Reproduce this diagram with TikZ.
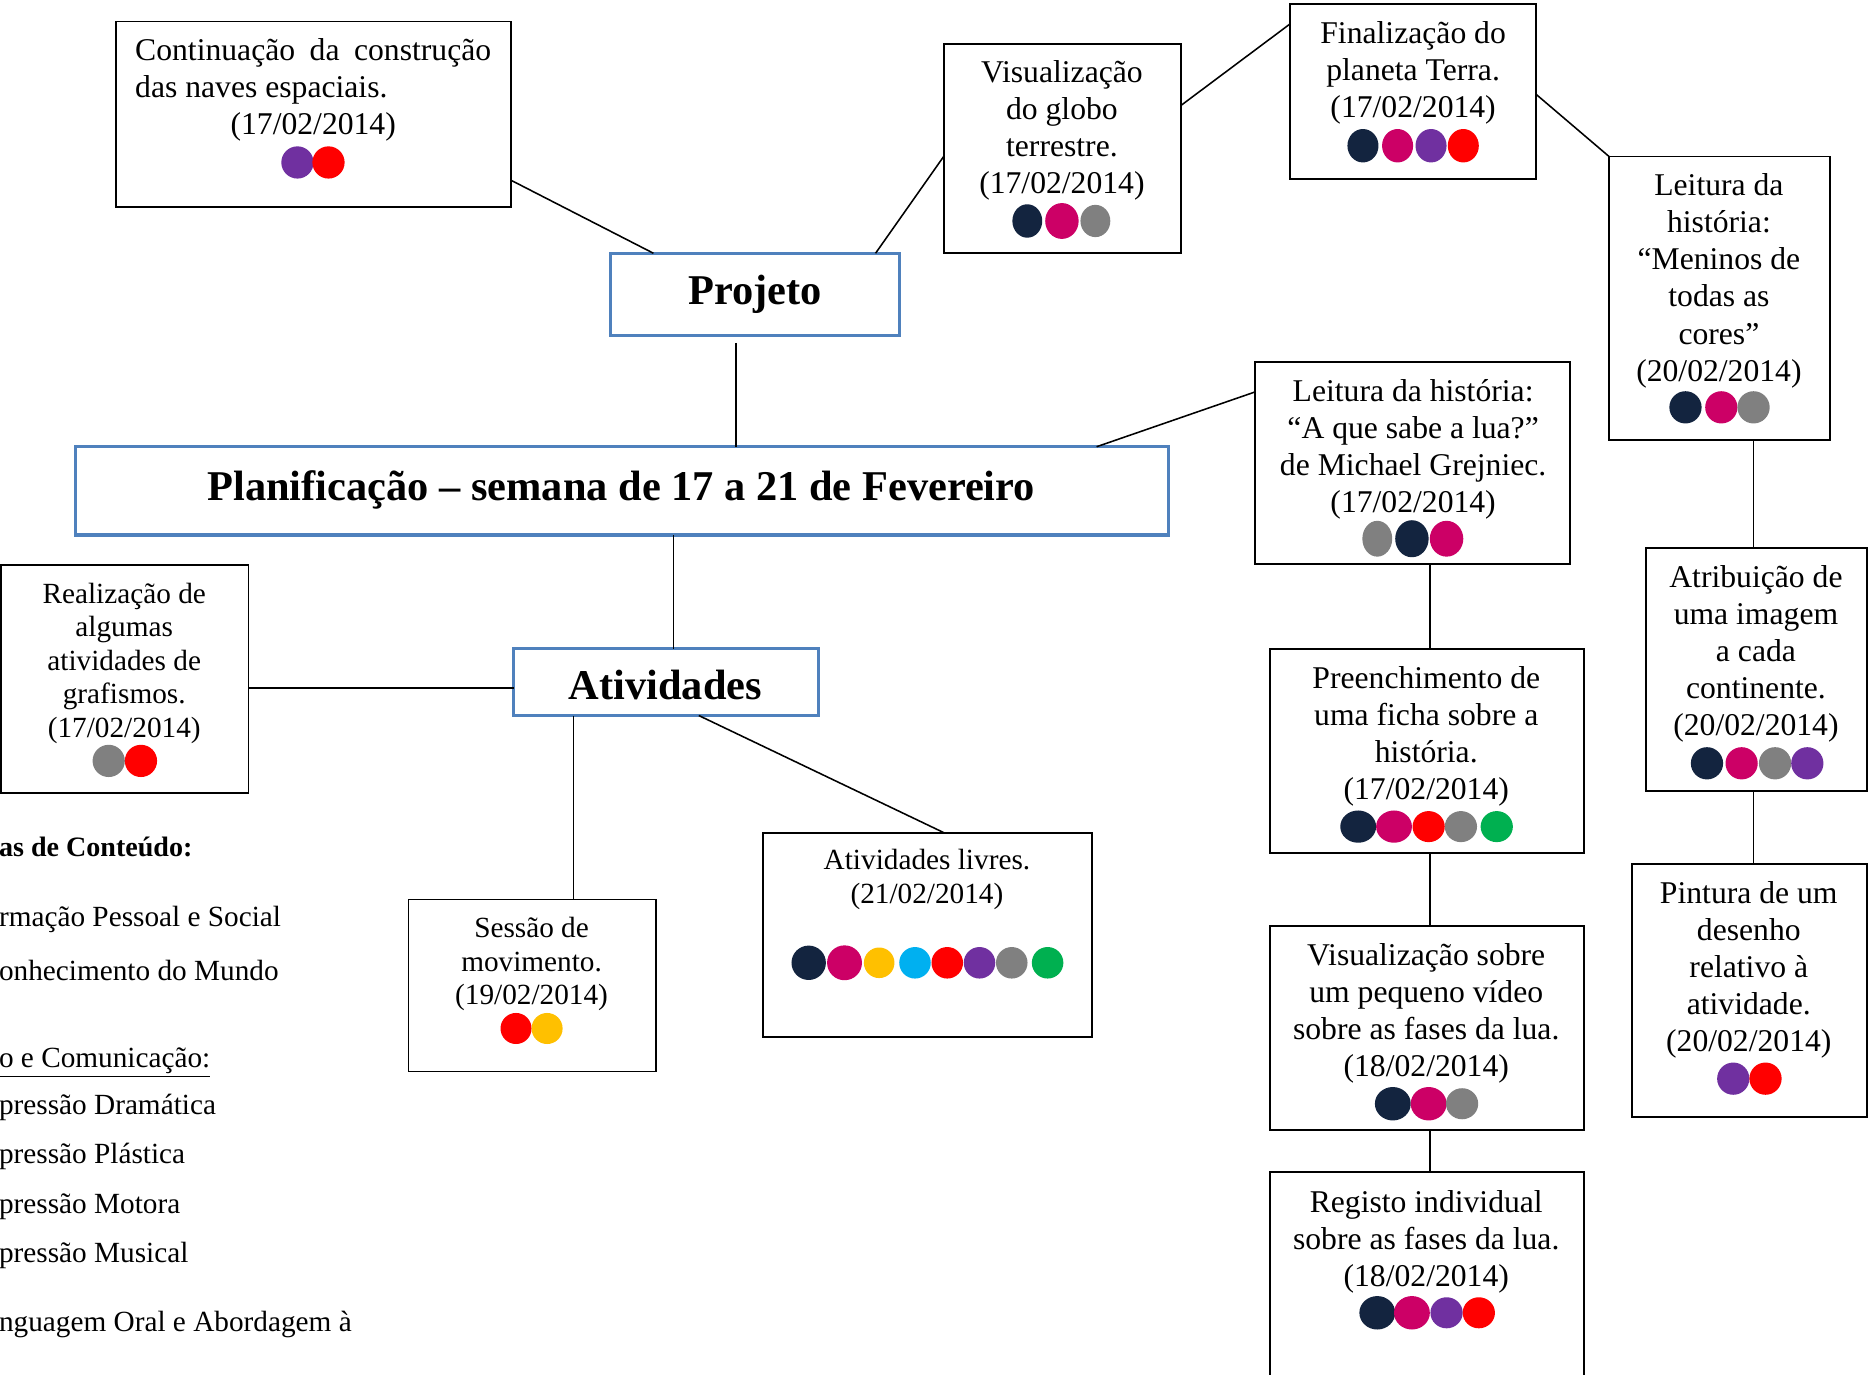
\documentclass[tikz,border=0pt]{standalone}
\usepackage{fontspec}
\setmainfont{Liberation Serif}
\usetikzlibrary{calc}
\definecolor{cnavy}{HTML}{13243F}
\definecolor{cmag}{HTML}{CC0066}
\definecolor{cred}{HTML}{FF0000}
\definecolor{cpur}{HTML}{7030A0}
\definecolor{cgray}{HTML}{808080}
\definecolor{cgreen}{HTML}{00B050}
\definecolor{camber}{HTML}{FFC000}
\definecolor{ccyan}{HTML}{00B0F0}
\definecolor{cblue}{HTML}{4F81BD}
\newcommand\mydot[5]{\fill[#1] (#2,#3) ellipse [x radius=#4pt, y radius=#5pt];}
\tikzset{
 bx/.style={draw=black, line width=1.6pt, inner sep=0, outer sep=0},
 bbx/.style={draw=cblue, line width=2.8pt, inner sep=0, outer sep=0},
 tx/.style={font=\fontsize{26.5}{31}\selectfont, align=center, inner sep=0, anchor=base},
 stx/.style={font=\fontsize{24.5}{28}\selectfont, align=center, inner sep=0, anchor=base},
 htx/.style={font=\bfseries\fontsize{35.5}{40}\selectfont, inner sep=0, anchor=base},
 ltx/.style={font=\fontsize{24.5}{28}\selectfont, inner sep=0, anchor=base west},
 cn/.style={line width=1.3pt},
}
\begin{document}
\begin{tikzpicture}[x=1pt,y=-1pt]
\useasboundingbox (0,0) rectangle (1568,1151);
\fill[white] (0,0) rectangle (1568,1151);

% ---------- boxes ----------
\node[bx, minimum width=331pt, minimum height=155pt] (cont) at (262.5,95.5) {};
\node[bx, minimum width=199pt, minimum height=175pt] (globo) at (889.5,124.5) {};
\node[bx, minimum width=206pt, minimum height=147pt] (final) at (1183,76.5) {};
\node[bx, minimum width=185pt, minimum height=237pt] (menin) at (1439.5,249.5) {};
\node[bx, minimum width=185pt, minimum height=203pt] (atrib) at (1470.5,560.5) {};
\node[bx, minimum width=197pt, minimum height=212pt] (pint) at (1464.5,829) {};
\node[bx, minimum width=263pt, minimum height=169pt] (lua) at (1182.5,387.5) {};
\node[bx, minimum width=263pt, minimum height=171pt] (preen) at (1194.5,628.5) {};
\node[bx, minimum width=263pt, minimum height=171pt] (video) at (1194.5,860.5) {};
\node[bx, minimum width=263pt, minimum height=199pt] (regist) at (1194.5,1080.5) {};
\node[bx, minimum width=207pt, minimum height=191pt] (realiz) at (104.5,568.5) {};
\node[bx, minimum width=207pt, minimum height=144pt] (sessao) at (445.5,825) {};
\node[bx, minimum width=275pt, minimum height=171pt] (livres) at (776.5,782.5) {};
\node[bbx, minimum width=242pt, minimum height=69pt] (proj) at (632,246.5) {};
\node[bbx, minimum width=915pt, minimum height=74pt] (plan) at (520.5,411) {};
\node[bbx, minimum width=255pt, minimum height=56pt] (ativ) at (557.5,571) {};

% ---------- headings ----------
\node[htx] (projt) at (632,255) {Projeto};
\node[htx] (plant) at (520,419) {Planificação – semana de 17 a 21 de Fevereiro};
\node[htx] (ativt) at (557,586) {Atividades};

% ---------- box texts (anchor = baseline of last line) ----------
\node[tx, anchor=base west, align=left] (contt) at (113,113)
  {\makebox[298pt][s]{Continuação da construção}\\das naves espaciais.\\\makebox[298pt]{(17/02/2014)}};
\node[tx] (globot) at (889,162) {Visualização\\do globo\\terrestre.\\(17/02/2014)};
\node[tx] (finalt) at (1183,98) {Finalização do\\planeta Terra.\\(17/02/2014)};
\node[tx] (menint) at (1439,319) {Leitura da\\história:\\“Meninos de\\todas as\\cores”\\(20/02/2014)};
\node[tx] (atribt) at (1470,616) {Atribuição de\\uma imagem\\a cada\\continente.\\(20/02/2014)};
\node[tx] (pintt) at (1464,880) {Pintura de um\\desenho\\relativo à\\atividade.\\(20/02/2014)};
\node[tx] (luat) at (1183,429) {Leitura da história:\\“A que sabe a lua?”\\de Michael Grejniec.\\(17/02/2014)};
\node[tx] (preent) at (1194,669) {Preenchimento de\\uma ficha sobre a\\história.\\(17/02/2014)};
\node[tx] (videot) at (1194,901) {Visualização sobre\\um pequeno vídeo\\sobre as fases da lua.\\(18/02/2014)};
\node[tx] (registt) at (1194,1077) {Registo individual\\sobre as fases da lua.\\(18/02/2014)};
\node[stx] (realizt) at (104,617) {Realização de\\algumas\\atividades de\\grafismos.\\(17/02/2014)};
\node[stx] (sessaot) at (445,841) {Sessão de\\movimento.\\(19/02/2014)};
\node[stx] (livrest) at (776,756) {Atividades livres.\\(21/02/2014)};

% ---------- dots ----------
\mydot{cpur}{249}{136}{13.5}{13.5}\mydot{cred}{275}{136}{13.5}{13.5}
\mydot{cnavy}{860}{185}{12.5}{14}\mydot{cmag}{889}{185}{14}{15}\mydot{cgray}{917}{185}{12.5}{13.5}
\mydot{cnavy}{1141}{122}{13}{14}\mydot{cmag}{1170}{122}{13}{14}\mydot{cpur}{1198}{122}{13}{14}\mydot{cred}{1225}{122}{13}{14}
\mydot{cnavy}{1411}{341}{13.5}{13.5}\mydot{cmag}{1441}{341}{13.5}{13.5}\mydot{cgray}{1468}{341}{13.5}{13.5}
\mydot{cnavy}{1429}{639}{13.5}{13.5}\mydot{cmag}{1458}{639}{13.5}{13.5}\mydot{cgray}{1486}{639}{13.5}{13.5}\mydot{cpur}{1513}{639}{13.5}{13.5}
\mydot{cpur}{1451}{903}{13.5}{13.5}\mydot{cred}{1478}{903}{13.5}{13.5}
\mydot{cgray}{1153}{451}{12.5}{15}\mydot{cnavy}{1182}{451}{14}{15.5}\mydot{cmag}{1211}{451}{14}{15}
\mydot{cnavy}{1137}{692}{15}{13.5}\mydot{cmag}{1167}{692}{15}{13.5}\mydot{cred}{1196}{692}{13.5}{13}\mydot{cgray}{1223}{692}{13.5}{13}\mydot{cgreen}{1253}{692}{13.5}{13}
\mydot{cnavy}{1166}{924}{15}{14}\mydot{cmag}{1196}{924}{15}{14}\mydot{cgray}{1224}{924}{13.5}{13}
\mydot{cnavy}{1153}{1099}{15}{14}\mydot{cmag}{1182}{1099}{15}{14}\mydot{cpur}{1211}{1099}{13.5}{13}\mydot{cred}{1238}{1099}{13.5}{13}
\mydot{cgray}{91}{637}{13.5}{13.5}\mydot{cred}{118}{637}{13.5}{13.5}
\mydot{cred}{432}{861}{13}{13}\mydot{camber}{458}{861}{13}{13}
\mydot{cnavy}{677}{806}{14.4}{14.4}\mydot{cmag}{707}{806}{14.6}{14.6}\mydot{camber}{736}{806}{12.8}{12.8}\mydot{ccyan}{766}{806}{13.2}{13.2}
\mydot{cred}{793}{806}{13.2}{13.2}\mydot{cpur}{820}{806}{13.2}{13.2}\mydot{cgray}{847}{806}{13.2}{13.2}\mydot{cgreen}{877}{806}{13.2}{13.2}

% ---------- connectors ----------
\draw[cn] ($(proj.north west)+(36,0)$) -- ($(cont.north east)+(0,133)$);
\draw[cn] ($(proj.north west)+(222,0)$) -- ($(globo.north west)+(0,94)$);
\draw[cn] ($(globo.north east)+(0,51)$) -- ($(final.north west)+(0,17)$);
\draw[cn] ($(final.north east)+(0,76)$) -- (menin.north west);
\draw[cn] ($(menin.south west)+(121,0)$) -- ($(atrib.north west)+(90,0)$);
\draw[cn] ($(atrib.south west)+(90,0)$) -- ($(pint.north west)+(102,0)$);
\draw[cn] ($(proj.south west)+(105,6)$) -- ($(plan.north west)+(553,0)$);
\draw[cn] ($(plan.north east)+(-60,0)$) -- ($(lua.north west)+(0,25)$);
\draw[cn] ($(plan.south west)+(501,0)$) -- ($(ativ.north west)+(134,0)$);
\draw[cn] ($(lua.south west)+(146,0)$) -- ($(preen.north west)+(134,0)$);
\draw[cn] ($(preen.south west)+(134,0)$) -- ($(video.north west)+(134,0)$);
\draw[cn] ($(video.south west)+(134,0)$) -- ($(regist.north west)+(134,0)$);
\draw[cn] ($(ativ.west)+(0,5)$) -- ($(realiz.east)+(0,7.5)$);
\draw[cn] ($(ativ.south west)+(50,0)$) -- ($(sessao.north west)+(138,0)$);
\draw[cn] ($(ativ.south west)+(155,0)$) -- ($(livres.north west)+(151,0)$);

% ---------- clipped list on the left ----------
\node[ltx, font=\bfseries\fontsize{23.5}{27}\selectfont] (l1) at (-1,717) {as de Conteúdo:};
\node[ltx] (l2) at (-1,776) {rmação Pessoal e Social};
\node[ltx] (l3) at (-1,821) {onhecimento do Mundo};
\node[ltx] (l4) at (-1,894) {\underline{o e Comunicação:}};
\node[ltx] (l5) at (-1,933) {pressão Dramática};
\node[ltx] (l6) at (-1,974) {pressão Plástica};
\node[ltx] (l7) at (-1,1016) {pressão Motora};
\node[ltx] (l8) at (-1,1057) {pressão Musical};
\node[ltx] (l9) at (-1,1115) {nguagem Oral e Abordagem à};
\end{tikzpicture}
\end{document}
